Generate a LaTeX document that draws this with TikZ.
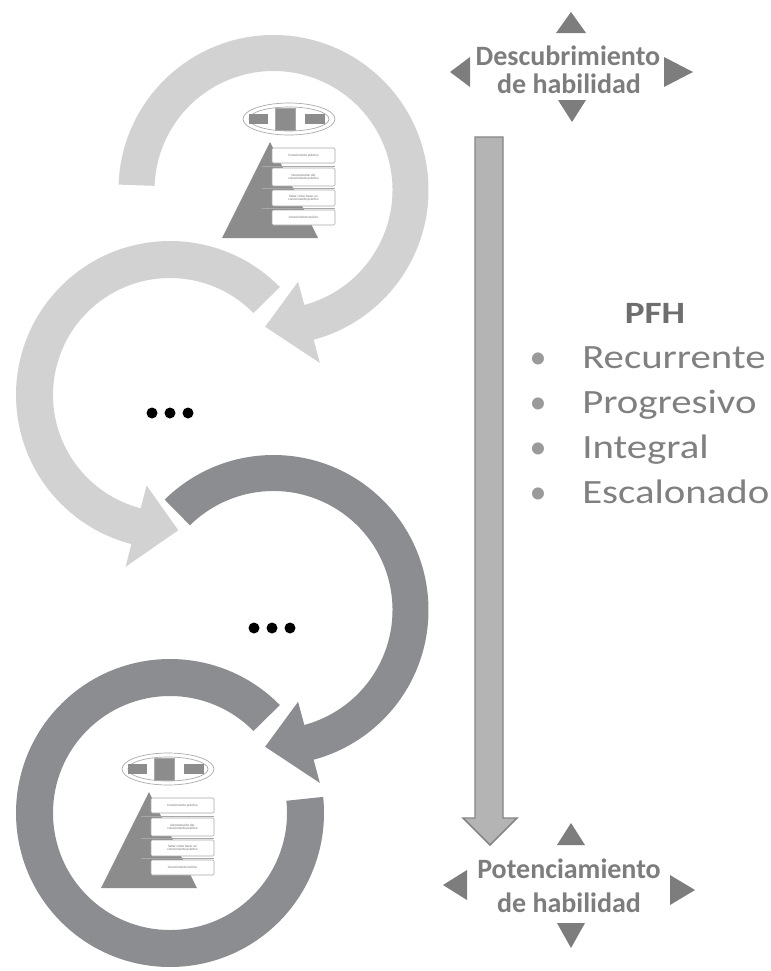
\documentclass[tikz,border=0pt]{standalone}
\usepackage{fontspec}
\setmainfont{Carlito}
\newfontfamily\widefont[FakeStretch=1.2]{Carlito}
\definecolor{cLight}{HTML}{D2D2D2}
\definecolor{cDark}{HTML}{8C8D91}
\definecolor{cTri}{HTML}{7D7D7D}
\definecolor{cText}{HTML}{7D7D7D}
\definecolor{cHead}{HTML}{6E6E6E}
\definecolor{cItem}{HTML}{808080}
\definecolor{cBul}{HTML}{9A9A9A}
\definecolor{cVfill}{HTML}{B4B4B4}
\definecolor{cVline}{HTML}{858585}
\definecolor{cMini}{HTML}{8C8C8C}
\definecolor{cBoxLine}{HTML}{A8A8A8}
\definecolor{cTiny}{HTML}{666666}
\tikzset{
  lightarr/.style={fill=cLight},
  darkarr/.style={fill=cDark},
  tri/.style={fill=cTri},
  comptext/.style={inner sep=0pt, text=cText, font=\fontsize{21}{21}\selectfont\bfseries, anchor=base},
  headtext/.style={inner sep=0pt, text=cHead, font=\widefont\fontsize{23.25}{23.25}\selectfont\bfseries, anchor=base},
  listtext/.style={inner sep=0pt, text=cItem, font=\widefont\fontsize{25.5}{25.5}\selectfont, anchor=base west},
  bul/.style={inner sep=0pt, text=cBul, font=\fontsize{25.5}{25.5}\selectfont, anchor=base},
  blackdot/.style={fill=black},
  pyr/.style={fill=cMini},
  miniline/.style={draw=cBoxLine, line width=0.5pt},
  minibox/.style={fill=white, draw=cBoxLine, line width=0.4pt, rounded corners=1pt},
  minitext/.style={inner sep=0pt, text=cTiny, font=\fontsize{2.5}{2.8}\selectfont, align=center},
  varrow/.style={fill=cVfill, draw=cVline, line width=1.1pt, line join=miter},
}
% circular arrow: #1 style, #2 cx, #3 cy, #4 outer radius, #5 band width,
% #6 start angle, #7 head base angle, #8 tip angle; head half width in \hw
\newcommand{\ringarrow}[8]{%
  \begin{scope}[shift={(#2,#3)}]
    \pgfmathsetmacro\raRo{#4}
    \pgfmathsetmacro\raRi{#4-#5}
    \pgfmathsetmacro\raRm{#4-#5/2}
    \pgfmathsetmacro\raRh{\raRm+\hw}
    \pgfmathsetmacro\raRl{\raRm-\hw}
    \fill[#1] (#6:\raRo) arc[start angle=#6, end angle=#7, radius=\raRo]
      -- (#7:\raRh) -- (#8:\raRm) -- (#7:\raRl) -- (#7:\raRi)
      arc[start angle=#7, end angle=#6, radius=\raRi] -- cycle;
  \end{scope}}
\newcommand{\minifig}[1]{%
  \draw[miniline] (289,119) ellipse[x radius=46, y radius=16];
  \draw[miniline] (289,119) ellipse[x radius=40, y radius=12];
  \fill[cMini] (249,114) rectangle (268,124);
  \fill[cMini] (305,114) rectangle (325,124);
  \fill[cMini, draw=cBoxLine, line width=0.3pt] (275,108) rectangle (295,130);
  \fill[pyr] (270,142) -- (318,238) -- (222,238) -- cycle;
  \foreach \yy in {166,188,208} \draw[cBoxLine, line width=0.5pt] (262,\yy) -- (335,\yy);
  \draw[minibox] (272,148) rectangle (335,163);
  \draw[minibox] (272,168) rectangle (335,186);
  \draw[minibox] (272,190) rectangle (335,206);
  \draw[minibox] (272,210) rectangle (335,225);
  \node[minitext] (#1b1) at (303.5,155.5) {Conocimiento práctico};
  \node[minitext] (#1b2) at (303.5,177) {Demostración del\\conocimiento práctico};
  \node[minitext] (#1b3) at (303.5,198) {Saber cómo hacer un\\conocimiento práctico};
  \node[minitext] (#1b4) at (303.5,217.5) {Conocimiento teórico};
}
\begin{document}
\begin{tikzpicture}[x=0.75pt, y=-0.75pt]
\useasboundingbox (0,0) rectangle (771,971);
\fill[white] (0,0) rectangle (771,971);

% circular arrows
\def\hw{42}
\ringarrow{lightarr}{273.5}{190}{155}{36}{182}{435}{453.5}
\ringarrow{lightarr}{170}{395}{154}{37}{315.5}{104.5}{86.5}
\ringarrow{darkarr}{273.5}{610}{155}{36}{225.4}{435}{453.5}
\begin{scope}[shift={(170,813)}]
  \fill[darkarr] (315.5:154) arc[start angle=315.5, end angle=-6, radius=154]
    -- (-6:117) arc[start angle=-6, end angle=315.5, radius=117] -- cycle;
\end{scope}

% dots
\foreach \xx in {152,170,188} \fill[blackdot] (\xx,413) circle[radius=5.5];
\foreach \xx in {254,272,290} \fill[blackdot] (\xx,628) circle[radius=5.5];

% mini figures
\minifig{t}
\begin{scope}[shift={(-121,650)}]
  \minifig{b}
\end{scope}

% vertical arrow
\draw[varrow] (475,137) -- (503,137) -- (503,818) -- (517,818) -- (490,845)
  -- (463,818) -- (475,818) -- cycle;

% top compass
\fill[tri] (571,12) -- (586,33) -- (556,33) -- cycle;
\fill[tri] (450,72) -- (470,57) -- (470,87) -- cycle;
\fill[tri] (693,72) -- (664,57) -- (664,87) -- cycle;
\fill[tri] (572,122) -- (558,100) -- (586,100) -- cycle;
\node[comptext] (d1) at (568,65) {Descubrimiento};
\node[comptext] (d2) at (569,93) {de habilidad};

% bottom compass
\fill[tri] (571,823) -- (585,845) -- (557,845) -- cycle;
\fill[tri] (443,885) -- (467,870) -- (467,900) -- cycle;
\fill[tri] (695,890) -- (670,875) -- (670,905) -- cycle;
\fill[tri] (571,948) -- (557,923) -- (585,923) -- cycle;
\node[comptext] (p1) at (569,878) {Potenciamiento};
\node[comptext] (p2) at (569,912) {de habilidad};

% PFH list
\node[headtext] (pfh) at (655,323) {PFH};
\node[bul] (b1) at (538,368) {•};
\node[bul] (b2) at (538,413) {•};
\node[bul] (b3) at (538,458) {•};
\node[bul] (b4) at (538,503) {•};
\node[listtext] (i1) at (582,368) {Recurrente};
\node[listtext] (i2) at (582,413) {Progresivo};
\node[listtext] (i3) at (582,458) {Integral};
\node[listtext] (i4) at (582,503) {Escalonado};
\end{tikzpicture}
\end{document}
